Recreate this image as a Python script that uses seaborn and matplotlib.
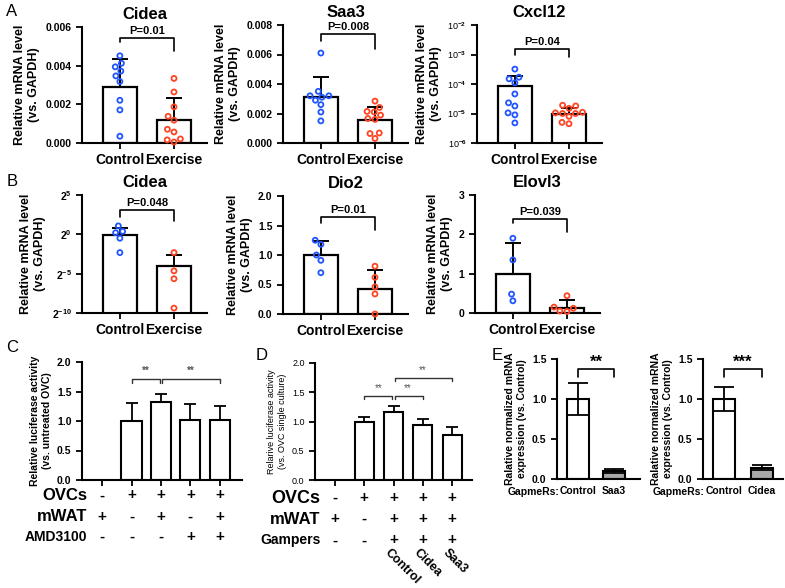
import matplotlib
matplotlib.use("Agg")
import matplotlib.pyplot as plt
import matplotlib.transforms as mtransforms
from matplotlib.collections import PathCollection
from matplotlib.ticker import NullLocator
import numpy as np
import pandas as pd
import seaborn as sns

groups = ["Control", "Exercise"]

# ---- panel A: mRNA in adipose, control vs exercise
a_genes = ["Cidea", "Saa3", "Cxcl12"]
a_pvals = ["P=0.01", "P=0.008", "P=0.04"]
a_means = [[0.00288, 0.00117], [0.00311, 0.00155], [8.3e-5, 1.0e-5]]
a_sd = [[0.00144, 0.00115], [0.00139, 0.00091], [1.0e-4, 0.55e-5]]
a_ctrl_pts = [
    [0.00451, 0.00412, 0.00394, 0.00372, 0.00347, 0.00318, 0.00221, 0.00171, 0.00035],
    [0.0061, 0.0035, 0.0032, 0.0031, 0.0032, 0.0029, 0.0026, 0.0021, 0.0015],
    [3.2e-4, 1.7e-4, 1.5e-4, 1.1e-4, 4.6e-5, 2.3e-5, 1.8e-5, 1.05e-5, 9e-6, 4.8e-6],
]
a_ex_pts = [
    [0.00334, 0.00264, 0.00187, 0.00138, 0.00118, 0.00071, 0.00057, 0.00021, 0.00016, 0.00005],
    [0.00284, 0.00241, 0.00214, 0.00210, 0.00189, 0.00166, 0.00160, 0.00068, 0.00064, 0.00031],
    [1.9e-5, 1.8e-5, 1.5e-5, 1.1e-5, 1.05e-5, 1.0e-5, 1.0e-5, 8e-6, 5e-6, 4.5e-6],
]
a_brackets = [[0.0052, 0.00543, 0.00477], [0.00694, 0.00737, 0.00636], [1.0e-3, 1.56e-3, 8.3e-4]]

# ---- panel B
b_genes = ["Cidea", "Dio2", "Elovl3"]
b_pvals = ["P=0.048", "P=0.01", "P=0.039"]
b_means = [[0.97, 0.0625], [1.0, 0.43], [1.0, 0.13]]
b_sd = [[0.83, 0.093], [0.23, 0.32], [0.78, 0.21]]
b_ctrl_pts = [[2.1, 1.3, 1.15, 0.71, 0.2], [1.25, 1.18, 1.0, 0.91, 0.70], [1.9, 1.35, 0.48, 0.31]]
b_ex_pts = [[0.2, 0.04, 0.02, 0.0015], [0.81, 0.62, 0.46, 0.34, 0.0], [0.44, 0.15, 0.12, 0.05, 0.04]]
b_brackets = [[4.8, 8.6, 3.1], [1.54, 1.65, 1.42], [2.3, 2.39, 2.07]]

# ---- panel C: luciferase, AMD3100
c_means = [np.nan, 1.0, 1.33, 1.02, 1.02]
c_sd = [0, 0.30, 0.13, 0.27, 0.24]
c_rows = ["OVCs", "mWAT", "AMD3100"]
c_signs = [["-", "+", "+", "+", "+"],
           ["+", "-", "+", "-", "+"],
           ["-", "-", "-", "+", "+"]]
c_pairs = [(1, 2, 1.65, 1.71, 1.65), (2, 4, 1.65, 1.71, 1.65)]

# ---- panel D: luciferase, gapmers
d_means = [np.nan, 1.0, 1.166, 0.94, 0.77]
d_sd = [0, 0.08, 0.105, 0.11, 0.13]
d_rows = ["OVCs", "mWAT", "Gampers"]
d_signs = [["-", "+", "+", "+", "+"],
           ["+", "-", "+", "+", "+"],
           ["-", "-", "+", "+", "+"]]
d_gapmers = ["", "", "Control", "Cidea", "Saa3"]
d_pairs = [(1, 2, 1.39, 1.44, 1.39), (2, 3, 1.39, 1.44, 1.39), (2, 4, 1.69, 1.75, 1.69)]

# ---- panel E: knockdown
e_labels = [["Control", "Saa3"], ["Control", "Cidea"]]
e_means = [[1.0, 0.10], [1.0, 0.14]]
e_sd = [[0.2, 0.025], [0.15, 0.03]]
e_stars = ["**", "***"]

BLUE = "#1f55ff"
RED = "#ff4422"
W, H = 785, 588

sns.set_style("ticks")
plt.rcParams.update({
    "font.family": ["Liberation Sans", "DejaVu Sans"],
    "font.weight": "bold",
    "axes.labelweight": "bold",
    "axes.titleweight": "bold",
    "axes.linewidth": 1.5,
    "axes.edgecolor": "black",
    "text.color": "black",
    "axes.labelcolor": "black",
    "xtick.color": "black",
    "ytick.color": "black",
    "xtick.major.width": 1.3,
    "ytick.major.width": 1.3,
    "xtick.major.size": 4,
    "ytick.major.size": 4,
    "mathtext.fontset": "custom",
    "mathtext.rm": "Liberation Sans",
    "mathtext.bf": "Liberation Sans:bold",
    "mathtext.it": "Liberation Sans:italic",
})

fig = plt.figure(figsize=(W / 100, H / 100), dpi=100)


def px_axes(left, top, right, bottom):
    return fig.add_axes([left / W, 1 - bottom / H, (right - left) / W, (bottom - top) / H])


def hollow(ax):
    for coll in ax.collections:
        if isinstance(coll, PathCollection):
            fc = coll.get_facecolors()
            coll.set_edgecolors(fc)
            coll.set_facecolors("none")
            coll.set_linewidth(1.3)
            coll.set_clip_on(False)
            coll.set_zorder(5)


def bracket(ax, x0, x1, yl, ytop, yr, text, size):
    ax.plot([x0, x0, x1, x1], [yl, ytop, ytop, yr], color="black", lw=1.2, clip_on=False)
    ax.annotate(text, ((x0 + x1) / 2, ytop), xytext=(0, 1.5), textcoords="offset points",
                ha="center", va="bottom", fontsize=size, fontweight="bold")


def two_group(ax, gene, means, sd, ctrl, ex, pval, br, log_base=None):
    if log_base:
        ax.set_yscale("log", base=log_base, nonpositive="clip")
    sns.barplot(x=groups, y=means, order=groups, color="white", edgecolor="black",
                linewidth=1.6, width=0.63, errorbar=None, ax=ax, zorder=2)
    df = pd.DataFrame({"group": ["Control"] * len(ctrl) + ["Exercise"] * len(ex),
                       "value": ctrl + ex})
    sns.swarmplot(data=df, x="group", y="value", hue="group", order=groups,
                  palette={"Control": BLUE, "Exercise": RED}, size=3.6, ax=ax, legend=False)
    hollow(ax)
    ax.errorbar([0, 1], means, yerr=[[0, 0], sd], fmt="none", ecolor="black",
                elinewidth=1.4, capsize=6, capthick=1.4, zorder=3)
    bracket(ax, 0, 1, br[0], br[1], br[2], pval, 8)
    ax.set_xlim(-0.7, 1.61)
    ax.set_xlabel("")
    ax.set_ylabel("Relative mRNA level\n(vs. GAPDH)", fontsize=9)
    ax.set_title(gene, fontsize=12, pad=6)
    ax.tick_params(axis="x", labelsize=10)
    ax.tick_params(axis="y", labelsize=7.5)
    sns.despine(ax=ax)


# ---- A row
boxes_a = [(82, 27, 207, 143), (283, 25, 408, 143), (477, 25, 602, 143)]
for i in range(3):
    ax = px_axes(*boxes_a[i])
    two_group(ax, a_genes[i], a_means[i], a_sd[i], a_ctrl_pts[i], a_ex_pts[i], a_pvals[i],
              a_brackets[i], log_base=10 if i == 2 else None)
    if i == 0:
        ax.set_ylim(0, 0.006)
        ax.set_yticks([0, 0.002, 0.004, 0.006], ["0.000", "0.002", "0.004", "0.006"])
    elif i == 1:
        ax.set_ylim(0, 0.008)
        ax.set_yticks([0, 0.002, 0.004, 0.006, 0.008],
                      ["0.000", "0.002", "0.004", "0.006", "0.008"])
    else:
        ax.set_ylim(1e-6, 1e-2)
        ax.set_yticks([1e-6, 1e-5, 1e-4, 1e-3, 1e-2],
                      [r"10$^{-6}$", r"10$^{-5}$", r"10$^{-4}$", r"10$^{-3}$", r"10$^{-2}$"])
        ax.yaxis.set_minor_locator(NullLocator())
        ax.tick_params(axis="y", labelsize=6.5)
        for t in ax.get_yticklabels():
            t.set_fontweight("normal")

# ---- B row
boxes_b = [(82, 195, 207, 313), (283, 196, 408, 314), (475, 195, 600, 313)]
for i in range(3):
    ax = px_axes(*boxes_b[i])
    two_group(ax, b_genes[i], b_means[i], b_sd[i], b_ctrl_pts[i], b_ex_pts[i], b_pvals[i],
              b_brackets[i], log_base=2 if i == 0 else None)
    if i == 0:
        ax.set_ylim(2.0 ** -10, 2.0 ** 5)
        ax.set_yticks([2.0 ** -10, 2.0 ** -5, 1, 2.0 ** 5],
                      [r"$\mathbf{2^{-10}}$", r"$\mathbf{2^{-5}}$", r"$\mathbf{2^{0}}$", r"$\mathbf{2^{5}}$"])
        ax.yaxis.set_minor_locator(NullLocator())
    elif i == 1:
        ax.set_ylim(0, 2.0)
        ax.set_yticks([0, 0.5, 1.0, 1.5, 2.0], ["0.0", "0.5", "1.0", "1.5", "2.0"])
    else:
        ax.set_ylim(0, 3)
        ax.set_yticks([0, 1, 2, 3], ["0", "1", "2", "3"])


# ---- C and D
def luciferase(ax, means, sd, rows, signs, pairs, ylabel, row_y, lab_size, ylab_size,
               tick_w, width, xlim):
    conds = [str(k) for k in range(len(means))]
    sns.barplot(x=conds, y=means, order=conds, color="white", edgecolor="black",
                linewidth=1.5, width=width, errorbar=None, ax=ax, zorder=2)
    idx = np.arange(len(means))
    ok = ~np.isnan(np.array(means, dtype=float))
    ax.errorbar(idx[ok], np.array(means)[ok], yerr=[np.zeros(ok.sum()), np.array(sd)[ok]],
                fmt="none", ecolor="black", elinewidth=1.3, capsize=4.5, capthick=1.3, zorder=3)
    for x0, x1, yl, yt, yr in pairs:
        g0 = 0.04 if x0 == 2 else 0
        g1 = 0.04 if x1 == 2 else 0
        ax.plot([x0 + g0, x0 + g0, x1 - g1, x1 - g1], [yl, yt, yt, yr], color="#333333", lw=1.0)
        ax.annotate("**", ((x0 + x1) / 2, yt), xytext=(0, 2), textcoords="offset points",
                    ha="center", va="bottom", fontsize=7, color="#555555", fontweight=tick_w)
    ax.set_xlim(*xlim)
    ax.set_ylim(0, 2.0)
    ax.set_yticks([0, 0.5, 1.0, 1.5, 2.0], ["0.0", "0.5", "1.0", "1.5", "2.0"])
    ax.set_xticks(idx, [""] * len(idx))
    ax.tick_params(axis="y", labelsize=ylab_size)
    for t in ax.get_yticklabels():
        t.set_fontweight(tick_w)
    ax.set_xlabel("")
    ax.set_ylabel(ylabel, fontsize=ylab_size, fontweight=tick_w)
    sns.despine(ax=ax)
    tr = mtransforms.blended_transform_factory(ax.transData, ax.transAxes)
    for r, (lab, row) in enumerate(zip(rows, signs)):
        ax.text(-0.5, row_y[r], lab, transform=tr, ha="right", va="center",
                fontsize=lab_size[r], fontweight="bold")
        for k, s in enumerate(row):
            ax.text(k, row_y[r], s, transform=tr, ha="center", va="center",
                    fontsize=11, fontweight="bold")
    return tr


ax = px_axes(82, 362, 242, 480)
luciferase(ax, c_means, c_sd, c_rows, c_signs, c_pairs,
           "Relative luciferase activity\n(vs. untreated OVC)",
           [-0.13, -0.31, -0.48], [12, 12, 10], 7.5, "bold", 0.68, (-0.68, 4.75))

ax = px_axes(315, 363, 472, 480)
tr = luciferase(ax, d_means, d_sd, d_rows, d_signs, d_pairs,
                "Relarive luciferase activity\n(vs. OVC single culture)",
                [-0.155, -0.335, -0.515], [13, 12, 10], 6.5, "normal", 0.65, (-0.68, 4.68))
for k, g in enumerate(d_gapmers):
    if g:
        ax.text(k - 0.1, -0.57, g, transform=tr, rotation=-45, rotation_mode="anchor",
                ha="left", va="top", fontsize=9, fontweight="bold")

# ---- E
boxes_e = [(557, 359, 640, 479), (703, 359, 783, 479)]
e_xlim = [(-0.58, 1.72), (-0.55, 1.55)]
e_width = [0.61, 0.58]
for i in range(2):
    ax = px_axes(*boxes_e[i])
    labs = e_labels[i]
    sns.barplot(x=labs, y=e_means[i], order=labs, hue=labs, palette=["white", "#a8a8a8"],
                edgecolor="black", linewidth=1.5, width=e_width[i], errorbar=None,
                legend=False, ax=ax, zorder=2)
    ax.errorbar([0, 1], e_means[i], yerr=e_sd[i], fmt="none", ecolor="black",
                elinewidth=1.3, capsize=7, capthick=1.3, zorder=3)
    ax.plot([0, 0, 1, 1], [1.28, 1.37, 1.37, 1.28], color="black", lw=1.2)
    ax.annotate(e_stars[i], (0.5, 1.37), xytext=(0, 0), textcoords="offset points",
                ha="center", va="bottom", fontsize=12, fontweight="bold")
    ax.set_xlim(*e_xlim[i])
    ax.set_ylim(0, 1.5)
    ax.set_yticks([0, 0.5, 1.0, 1.5], ["0.0", "0.5", "1.0", "1.5"])
    ax.tick_params(axis="y", labelsize=7.5)
    ax.tick_params(axis="x", labelsize=7.5, length=0, pad=5)
    ax.set_xlabel("")
    ax.set_ylabel("Ralative normalized mRNA\nexpression (vs. Control)", fontsize=7.5)
    sns.despine(ax=ax)
    tr = mtransforms.blended_transform_factory(ax.transData, ax.transAxes)
    ax.text(-0.5, -0.105, "GapmeRs:", transform=tr, ha="right", va="center", fontsize=7.5)

# panel letters
for letter, (x, y) in {"A": (12, 12), "B": (12, 182), "C": (12, 347),
                       "D": (262, 355), "E": (497, 356)}.items():
    fig.text(x / W, 1 - y / H, letter, fontsize=12, fontweight="normal", ha="center", va="center")

fig.savefig("out.png", dpi=100)
